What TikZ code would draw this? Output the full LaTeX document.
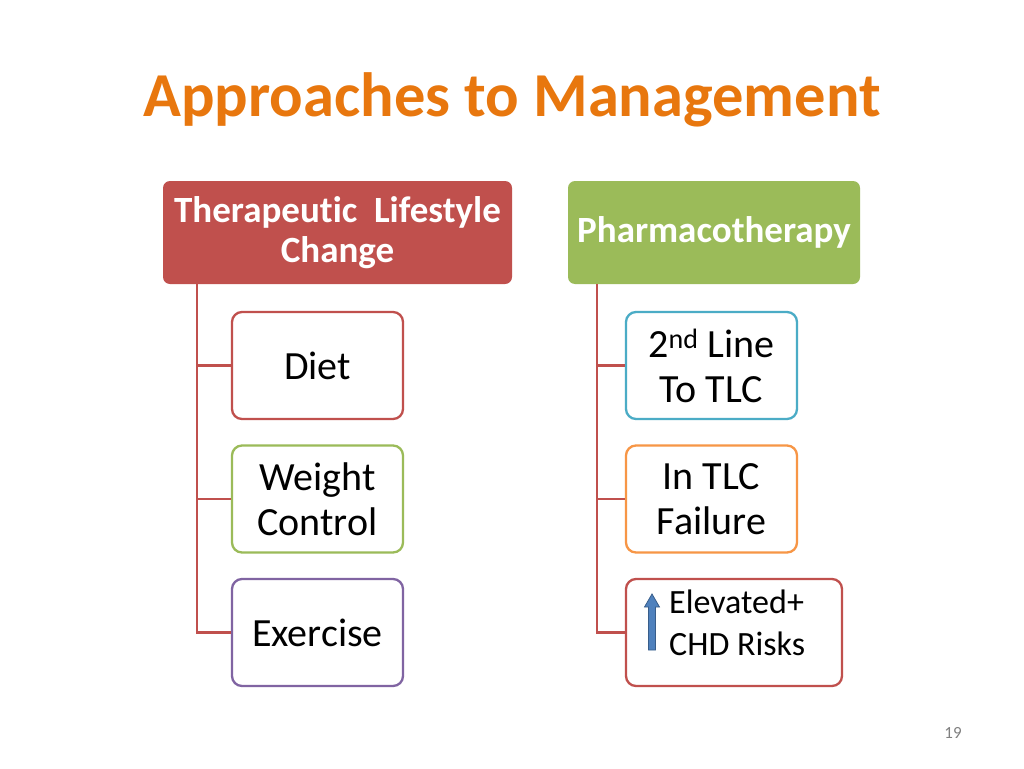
\documentclass[tikz,border=0pt]{standalone}
\usepackage{fontspec}
\setmainfont{Carlito}[Ligatures=NoCommon]
\usetikzlibrary{calc}
\definecolor{tred}{HTML}{C0504D}
\definecolor{tgreen}{HTML}{9BBB59}
\definecolor{tpurple}{HTML}{8064A2}
\definecolor{tblue}{HTML}{4BACC6}
\definecolor{torange}{HTML}{F79646}
\definecolor{ttitle}{HTML}{E8770E}
\definecolor{tarrow}{HTML}{4F81BD}
\definecolor{tarrowd}{HTML}{385D8A}
\tikzset{
  header/.style={rounded corners=7pt, text=white, font=\bfseries\fontsize{37}{40}\selectfont, align=center, inner sep=0pt},
  item/.style={draw=#1, line width=2.3pt, fill=white, rounded corners=10pt, minimum width=171pt, minimum height=107pt, align=center, font=\fontsize{40}{45}\selectfont, inner sep=0pt},
  conn/.style={draw=tred, line width=2.3pt},
}
\begin{document}
\begin{tikzpicture}[x=1pt,y=-1pt]
\useasboundingbox (0,0) rectangle (1024,768);
\fill[white] (0,0) rectangle (1024,768);
% title
\node[text=ttitle, font=\bfseries\fontsize{62.5}{64}\selectfont] (title) at (512,100) {Approaches to Management};
% headers
\node[header, fill=tred, minimum width=349pt, minimum height=103pt] (tlc) at (337.5,232.5) {Therapeutic\ \ Lifestyle\\Change};
\node[header, fill=tgreen, minimum width=292pt, minimum height=103pt] (pharm) at (714,232.5) {Pharmacotherapy};
% left items
\node[item=tred] (diet) at (317.5,365.5) {Diet};
\node[item=tgreen] (weight) at (317.5,499) {Weight\\Control};
\node[item=tpurple] (exer) at (317.5,632.5) {Exercise};
% right items
\node[item=tblue] (second) at (711.5,365.5) {2\textsuperscript{nd} Line\\To TLC};
\node[item=torange] (fail) at (711.5,499) {In TLC\\Failure};
\node[item=tred, minimum width=216pt] (elev) at (734,632.5) {};
\node[font=\fontsize{34}{42}\selectfont, align=left, anchor=west, inner sep=0pt] (elevtxt) at (669,623) {Elevated+\\CHD Risks};
% arrow
\fill[tarrow, draw=tarrowd, line width=0.8pt] (648.5,650) -- (648.5,607) -- (644.5,607) -- (652,594) -- (659.5,607) -- (655.5,607) -- (655.5,650) -- cycle;
% spines
\coordinate (sl) at (197,0);
\coordinate (sr) at (597,0);
\draw[conn] (tlc.south -| sl) -- (sl |- exer.west) -- (exer.west);
\draw[conn] (sl |- diet.west) -- (diet.west);
\draw[conn] (sl |- weight.west) -- (weight.west);
\draw[conn] (pharm.south -| sr) -- (sr |- elev.west) -- (elev.west);
\draw[conn] (sr |- second.west) -- (second.west);
\draw[conn] (sr |- fail.west) -- (fail.west);
% page number
\node[text=gray, font=\fontsize{17}{19}\selectfont] (pg) at (953,733) {19};
\end{tikzpicture}
\end{document}
